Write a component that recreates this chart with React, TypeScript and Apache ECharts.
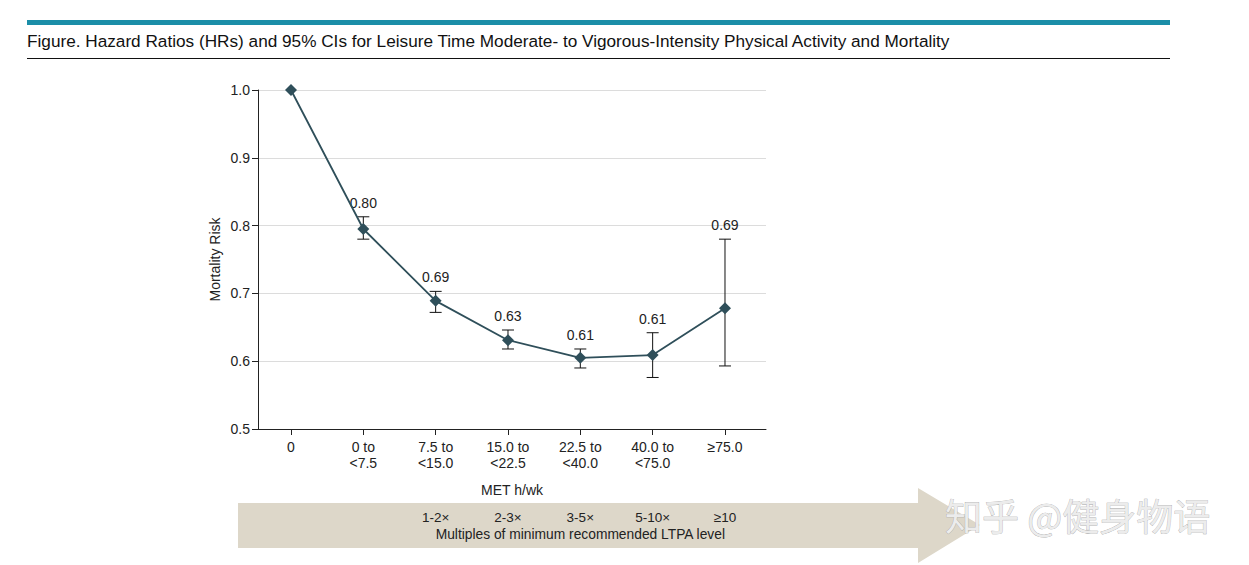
import React, { useEffect, useRef } from "react";
import * as echarts from "echarts";

const categories = ["0", "0 to\n<7.5", "7.5 to\n<15.0", "15.0 to\n<22.5", "22.5 to\n<40.0", "40.0 to\n<75.0", "≥75.0"];
const hrValues = [1.0, 0.795, 0.689, 0.631, 0.605, 0.609, 0.678];
const ciLow = [null, 0.78, 0.672, 0.618, 0.59, 0.576, 0.593];
const ciHigh = [null, 0.813, 0.703, 0.646, 0.618, 0.642, 0.78];
const hrLabels = ["", "0.80", "0.69", "0.63", "0.61", "0.61", "0.69"];
const yTicks = { min: 0.5, max: 1.0, interval: 0.1 };
const multiples = ["1-2×", "2-3×", "3-5×", "5-10×", "≥10"];

const FONT = "'Liberation Sans', sans-serif";

export default function App() {
  const ref = useRef<HTMLDivElement>(null);
  useEffect(() => {
    document.body.style.margin = "0";
    const chart = echarts.init(ref.current!, null, { renderer: "svg" });
    const gridLeft = 258;
    const gridWidth = 508;
    const xMin = -0.456;
    const xMax = 6.567;
    const xPix = (i: number) => gridLeft + ((i - xMin) / (xMax - xMin)) * gridWidth;
    const idx = categories.map((_, i) => i);
    const multGraphics = multiples.map((m, i) => ({
      type: "text",
      x: xPix(i + 2),
      y: 517,
      style: { text: m, fill: "#222", font: `13.5px ${FONT}`, textAlign: "center", textVerticalAlign: "middle" },
    }));
    const errData = categories
      .map((_, i) => (ciLow[i] == null ? null : [i, ciLow[i], ciHigh[i], i]))
      .filter((d) => d != null);
    chart.setOption({
      animation: false,
      backgroundColor: "#fff",
      textStyle: { fontFamily: FONT },
      grid: { left: gridLeft, top: 90, width: gridWidth, height: 339 },
      xAxis: {
        type: "value",
        min: xMin,
        max: xMax,
        name: "MET h/wk",
        nameLocation: "middle",
        nameGap: 54,
        nameTextStyle: { fontSize: 14, color: "#222", fontFamily: FONT },
        axisLine: { onZero: false, lineStyle: { color: "#222", width: 1 } },
        axisTick: { show: true, length: 6, customValues: idx, lineStyle: { color: "#222" } },
        axisLabel: {
          fontSize: 14,
          color: "#222",
          lineHeight: 16,
          margin: 10,
          fontFamily: FONT,
          customValues: idx,
          formatter: (v: number) => categories[Math.round(v)] ?? "",
        },
        splitLine: { show: false },
      },
      yAxis: {
        type: "value",
        min: yTicks.min,
        max: yTicks.max,
        interval: yTicks.interval,
        name: "Mortality Risk",
        nameLocation: "middle",
        nameGap: 36,
        nameTextStyle: { fontSize: 14, color: "#222", fontFamily: FONT },
        axisLine: { show: true, onZero: false, lineStyle: { color: "#222", width: 1 } },
        axisTick: { show: true, length: 6, lineStyle: { color: "#222" } },
        axisLabel: { fontSize: 14, color: "#222", formatter: (v: number) => v.toFixed(1), margin: 8, fontFamily: FONT },
        splitLine: { lineStyle: { color: "#dcdcdc", width: 1 } },
      },
      series: [
        {
          type: "custom",
          data: errData,
          z: 3,
          renderItem: (params: any, api: any) => {
            const x = api.coord([api.value(0), api.value(1)])[0];
            const yl = api.coord([api.value(0), api.value(1)])[1];
            const yh = api.coord([api.value(0), api.value(2)])[1];
            const k = api.value(3);
            const cap = 6;
            const st = { stroke: "#111", lineWidth: 1 };
            return {
              type: "group",
              children: [
                { type: "line", shape: { x1: x, y1: yl, x2: x, y2: yh }, style: st },
                { type: "line", shape: { x1: x - cap, y1: yl, x2: x + cap, y2: yl }, style: st },
                { type: "line", shape: { x1: x - cap, y1: yh, x2: x + cap, y2: yh }, style: st },
                {
                  type: "text",
                  x: x,
                  y: yh - 14,
                  style: { text: hrLabels[k], fill: "#222", font: `14px ${FONT}`, textAlign: "center", textVerticalAlign: "middle" },
                },
              ],
            };
          },
        },
        {
          type: "line",
          data: hrValues.map((v, i) => [i, v]),
          z: 4,
          symbol: "diamond",
          symbolSize: 12,
          lineStyle: { color: "#2f4f5a", width: 1.8 },
          itemStyle: { color: "#2f4f5a" },
        },
      ],
      graphic: [
        { type: "rect", shape: { x: 27, y: 20, width: 1143, height: 5 }, style: { fill: "#1b8ea8" } },
        {
          type: "text",
          x: 27,
          y: 41,
          style: {
            text: "Figure. Hazard Ratios (HRs) and 95% CIs for Leisure Time Moderate- to Vigorous-Intensity Physical Activity and Mortality",
            fill: "#111",
            font: `17.2px ${FONT}`,
            textVerticalAlign: "middle",
          },
        },
        { type: "line", shape: { x1: 27, y1: 58.5, x2: 1170, y2: 58.5 }, style: { stroke: "#111", lineWidth: 1 } },
        {
          type: "polygon",
          shape: { points: [[238, 503], [918, 503], [918, 488], [980, 525], [918, 563], [918, 548], [238, 548]] },
          style: { fill: "#ddd7c9" },
        },
        ...multGraphics,
        {
          type: "text",
          x: xPix(4),
          y: 534,
          style: { text: "Multiples of minimum recommended LTPA level", fill: "#222", font: `13.8px ${FONT}`, textAlign: "center", textVerticalAlign: "middle" },
        },
        {
          type: "text",
          x: 945,
          y: 515,
          style: {
            text: "知乎 @健身物语",
            fill: "#ececec",
            stroke: "#a0a0a0",
            lineWidth: 0.6,
            font: `37px 'Noto Sans CJK SC'`,
            textVerticalAlign: "middle",
          },
        },
      ],
    });
    return () => chart.dispose();
  }, []);
  return <div ref={ref} style={{ width: 1249, height: 565 }} />;
}
